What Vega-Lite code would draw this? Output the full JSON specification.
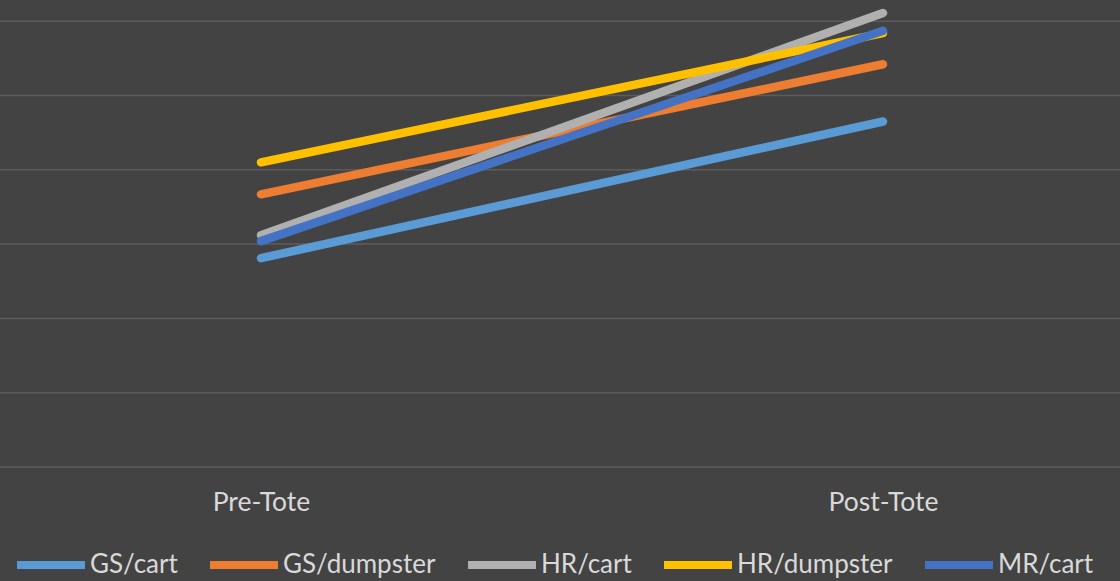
{
  "$schema": "https://vega.github.io/schema/vega-lite/v6.json",
  "width": 1120,
  "height": 467,
  "autosize": {"type": "none"},
  "padding": {"left": 0, "top": 0, "right": 0, "bottom": 114},
  "background": "#434343",
  "config": {
    "view": {"stroke": null},
    "font": "Lato"
  },
  "layer": [
    {
      "data": {"values": [{"g": 0}, {"g": 1}, {"g": 2}, {"g": 3}, {"g": 4}, {"g": 5}, {"g": 6}]},
      "mark": {"type": "rule", "color": "#5c5c5c", "strokeWidth": 1.5},
      "encoding": {
        "y": {"field": "g", "type": "quantitative", "scale": {"domain": [0, 6.285], "nice": false, "zero": false}, "axis": null}
      }
    },
    {
      "data": {
        "values": [
          {"phase": "Pre-Tote", "series": "GS/cart", "value": 2.81},
          {"phase": "Post-Tote", "series": "GS/cart", "value": 4.65},
          {"phase": "Pre-Tote", "series": "GS/dumpster", "value": 3.67},
          {"phase": "Post-Tote", "series": "GS/dumpster", "value": 5.42},
          {"phase": "Pre-Tote", "series": "HR/cart", "value": 3.12},
          {"phase": "Post-Tote", "series": "HR/cart", "value": 6.11},
          {"phase": "Pre-Tote", "series": "HR/dumpster", "value": 4.1},
          {"phase": "Post-Tote", "series": "HR/dumpster", "value": 5.84},
          {"phase": "Pre-Tote", "series": "MR/cart", "value": 3.04},
          {"phase": "Post-Tote", "series": "MR/cart", "value": 5.87}
        ]
      },
      "mark": {"type": "line", "strokeWidth": 8.5, "strokeCap": "round"},
      "encoding": {
        "x": {
          "field": "phase",
          "type": "ordinal",
          "sort": ["Pre-Tote", "Post-Tote"],
          "scale": {"type": "point", "range": [261, 883], "padding": 0},
          "axis": {
            "title": null,
            "domain": false,
            "ticks": false,
            "grid": false,
            "labelAngle": 0,
            "labelFontSize": 26.5,
            "labelColor": "#d9d9d9",
            "labelPadding": 22
          }
        },
        "y": {
          "field": "value",
          "type": "quantitative",
          "scale": {"domain": [0, 6.285], "nice": false, "zero": false},
          "axis": null
        },
        "color": {
          "field": "series",
          "type": "nominal",
          "scale": {
            "domain": ["GS/cart", "GS/dumpster", "HR/cart", "HR/dumpster", "MR/cart"],
            "range": ["#5B9BD5", "#ED7D31", "#B0B0B0", "#FFC000", "#4472C4"]
          },
          "legend": {
            "title": null,
            "orient": "none",
            "direction": "horizontal",
            "legendX": 13,
            "legendY": 527,
            "symbolType": "stroke",
            "symbolSize": 4624,
            "symbolStrokeWidth": 8,
            "labelFontSize": 26,
            "labelColor": "#d9d9d9",
            "labelOffset": 1,
            "columnPadding": 16,
            "labelLimit": 300
          }
        }
      }
    }
  ]
}
